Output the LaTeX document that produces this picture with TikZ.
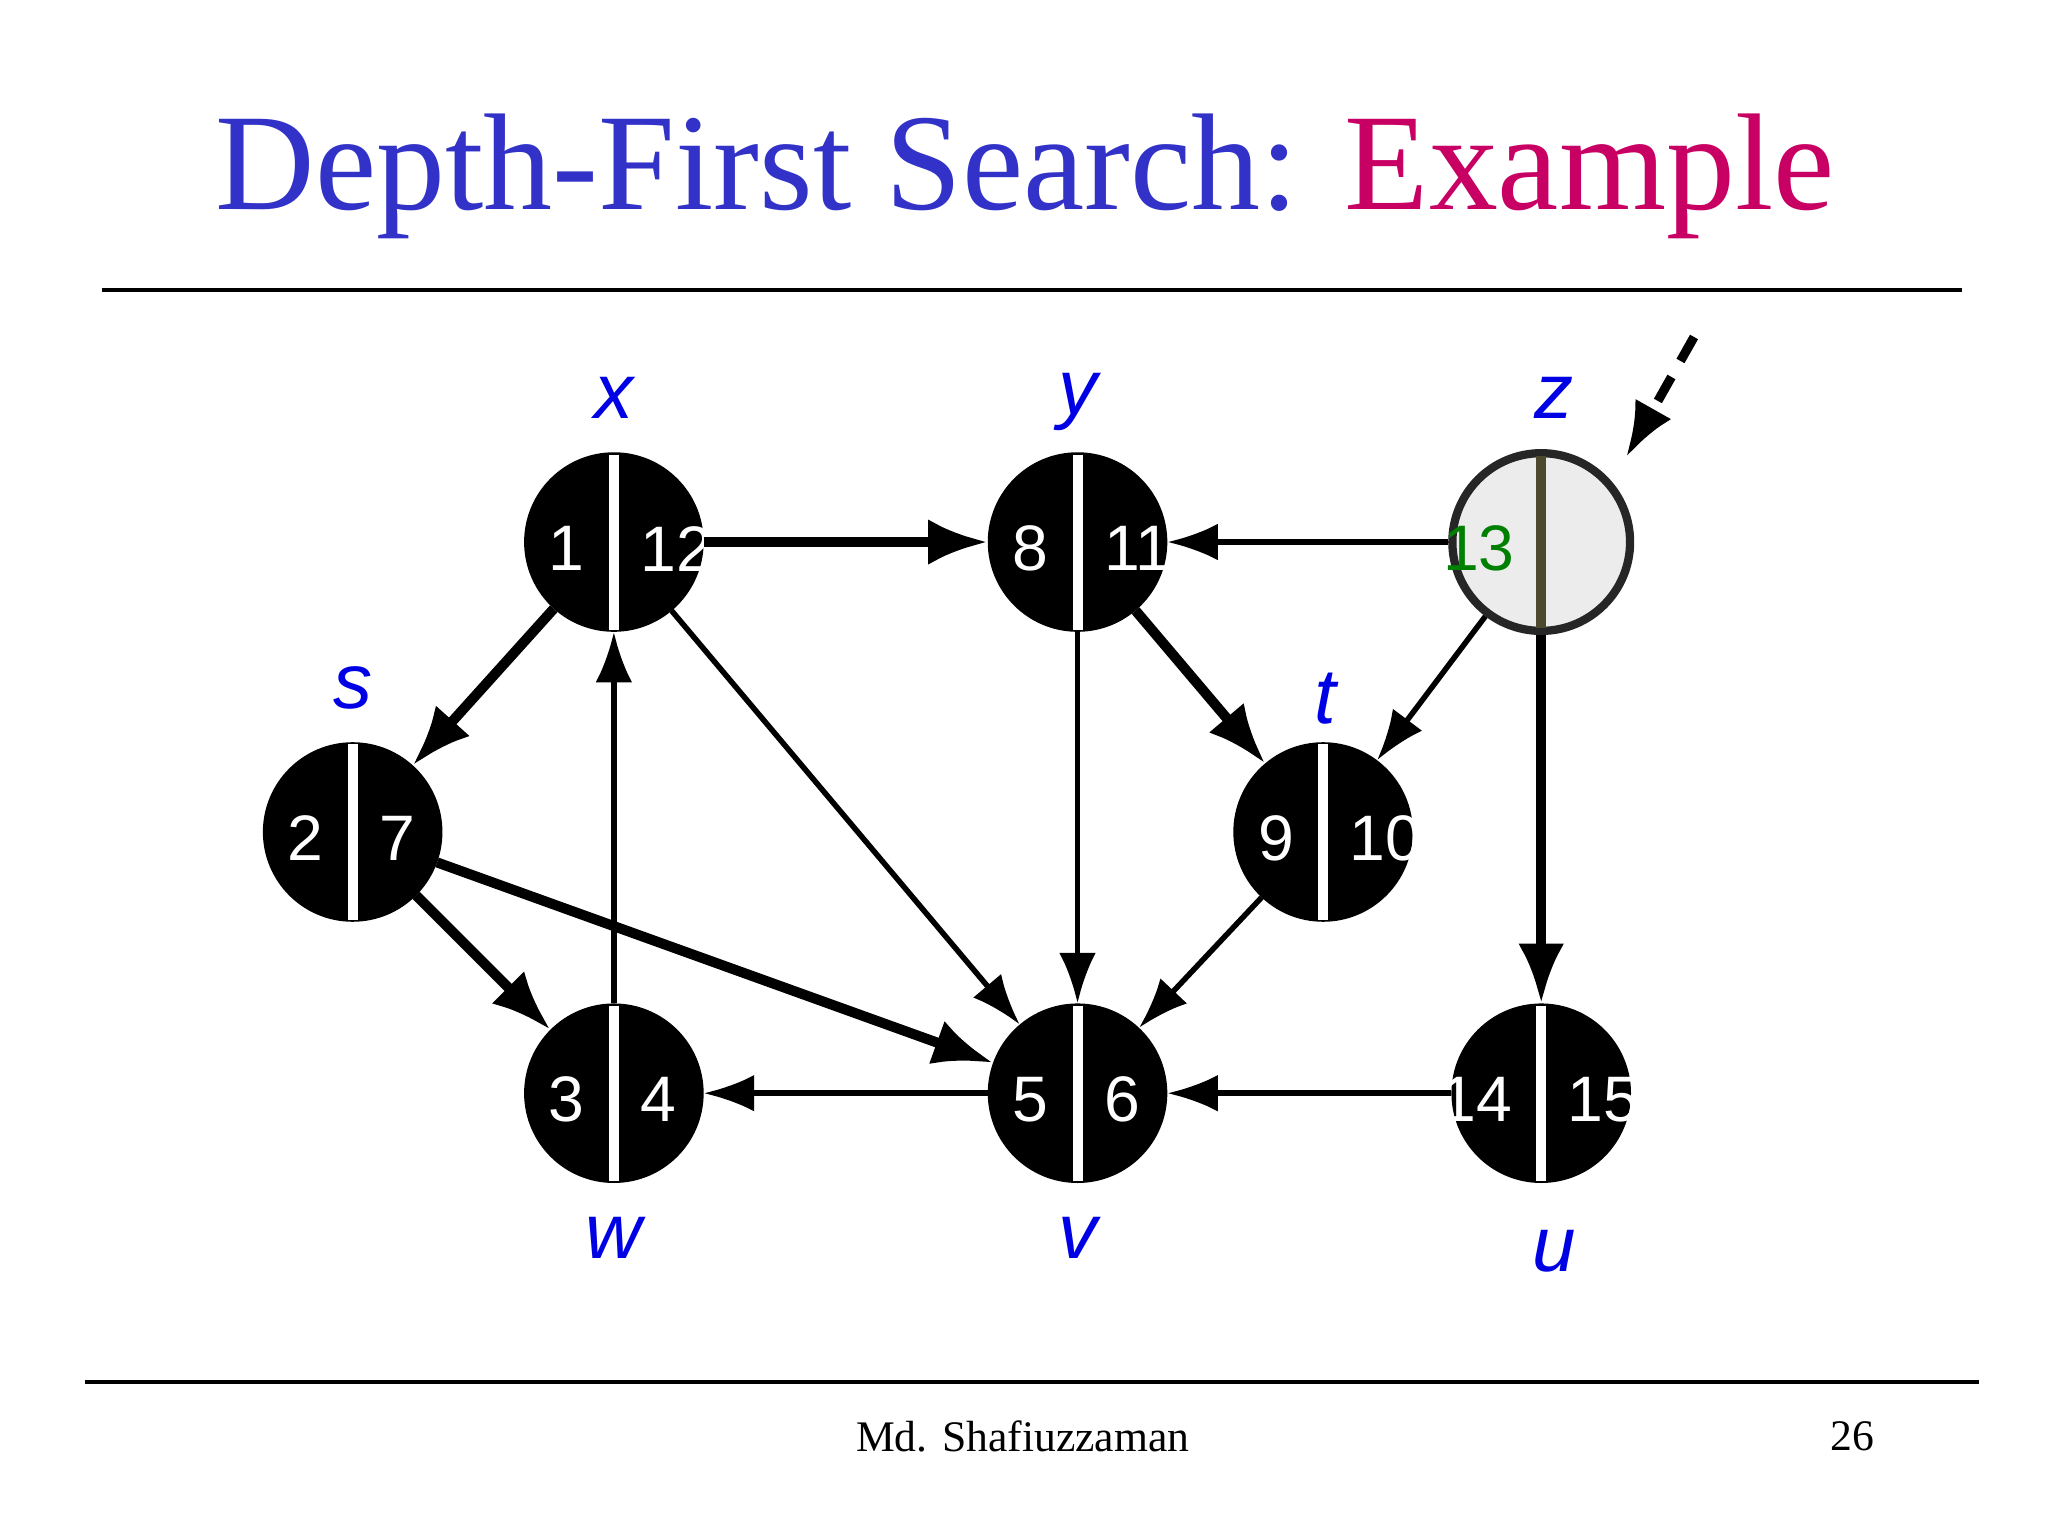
\documentclass[tikz,border=0pt]{standalone}
\usepackage{fontspec}
\setmainfont{Liberation Serif}
\newfontfamily\sff{Liberation Sans}
\usetikzlibrary{arrows.meta}
\begin{document}
\begin{tikzpicture}[x=0.01cm,y=-0.01cm,
  vtx/.style={circle,fill=black,draw=black,minimum size=1.36cm,inner sep=0pt},
  num/.style={text=white,font=\sff\fontsize{14}{14}\selectfont},
  lab/.style={text=blue!90!black,font=\sff\itshape\fontsize{17}{17}\selectfont},
  thk/.style={line width=2.2pt,-{Latex[length=13pt,width=10pt]}},
  thn/.style={line width=1.2pt,-{Latex[length=11pt,width=8pt]}}]
\useasboundingbox (0,0) rectangle (1568,1176);
\node[font=\fontsize{30}{30}\selectfont] (title) at (785,135) {\textcolor[RGB]{50,50,200}{Depth-First Search:} \textcolor[RGB]{200,0,100}{Example}};
\coordinate (l1a) at (78,222); \coordinate (l1b) at (1502,222);
\draw[line width=0.8pt] (l1a) -- (l1b);
\coordinate (l2a) at (65,1058); \coordinate (l2b) at (1515,1058);
\draw[line width=0.8pt] (l2a) -- (l2b);
\node[font=\fontsize{9.5}{10}\selectfont] (foot) at (783,1100) {Md. Shafiuzzaman};
\node[font=\fontsize{9.5}{10}\selectfont] (pg) at (1418,1100) {26};
% nodes
\foreach \n/\px/\py/\a/\b in {x/470/415/1/12, y/825/415/8/11, s/270/637/2/7, t/1013/637/9/10, w/470/837/3/4, v/825/837/5/6, u/1180/837/14/15}{
  \node[vtx] (\n) at (\px,\py) {};
  \draw[white,line width=2.2pt] (\px,\py-67) -- (\px,\py+67);
  \node[num,anchor=east] at (\px-10,\py+5) {\a};
  \node[num,anchor=west] at (\px+8,\py+5) {\b};
}
\node[vtx,fill=gray!15,draw=black!85,line width=1.8pt] (z) at (1180,415) {};
\draw[black!50!olive!80!black,line width=2.2pt] (1180,349) -- (1180,481);
\node[anchor=east,text=green!50!black,font=\sff\fontsize{14}{14}\selectfont] at (1172,420) {13};
% labels
\node[lab] at (470,305) {x};
\node[lab] at (825,308) {y};
\node[lab] at (1190,305) {z};
\node[lab] at (270,527) {s};
\node[lab] at (1015,535) {t};
\node[lab] at (470,948) {w};
\node[lab] at (825,948) {v};
\node[lab] at (1190,958) {u};
% edges
\draw[thk] (x) -- (y);
\draw[thk] (x) -- (s);
\draw[thk] (y) -- (t);
\draw[thk] (s) -- (w);
\draw[thk] (s) -- (v);
\draw[thk] (z) -- (u);
\draw[thn] (z) -- (y);
\draw[thn] (z) -- (t);
\draw[thn] (x) -- (v);
\draw[thn] (y) -- (v);
\draw[thn] (t) -- (v);
\draw[thn] (w) -- (x);
\draw[thn] (v) -- (w);
\draw[thn] (u) -- (v);
\coordinate (d1) at (1297,258); \coordinate (d2) at (1245,350);
\draw[line width=2pt,dash pattern=on 6pt off 4pt,-{Latex[length=12pt,width=9pt]}] (d1) -- (d2);
\end{tikzpicture}
\end{document}
